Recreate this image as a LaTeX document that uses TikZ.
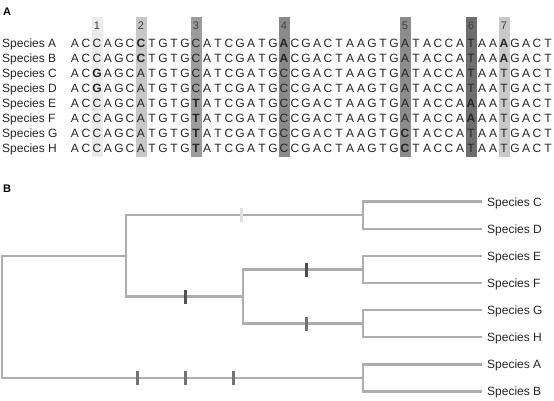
\documentclass[tikz,border=0pt]{standalone}
\usepackage{fontspec}
\setmainfont{Liberation Sans}
\usetikzlibrary{positioning}

\definecolor{siteone}{gray}{0.92}
\definecolor{sitetwo}{gray}{0.78}
\definecolor{sitethree}{gray}{0.61}
\definecolor{sitefour}{gray}{0.54}
\definecolor{sitefive}{gray}{0.55}
\definecolor{sitesix}{gray}{0.43}
\definecolor{siteseven}{gray}{0.79}
\definecolor{treegray}{gray}{0.68}

\tikzset{
  lab/.style={anchor=base west, inner sep=0pt, font=\fontsize{12}{14}\selectfont, text=black!85},
  letter/.style={anchor=base, inner sep=0pt, font=\fontsize{12}{14}\selectfont, text=black!85},
  sitenum/.style={anchor=base, inner sep=0pt, font=\fontsize{11}{13}\selectfont, text=black!75},
  panel/.style={anchor=base west, inner sep=0pt, font=\fontsize{11}{13}\selectfont\bfseries},
  leaf/.style={anchor=west, inner xsep=5pt, inner ysep=0pt, text height=8.6pt, text depth=0pt,
    font=\fontsize{12}{14}\selectfont, text=black!85},
  branch/.style={draw=treegray, line width=2.5pt, line join=miter},
  tick/.style={rectangle, inner sep=0pt, minimum width=3pt, minimum height=14pt, fill=#1},
}

% one row of the alignment: species, baseline, letters (lower case = bold)
\newcount\seqcol
\makeatletter
\newcommand\seqrow[3]{%
  \node[lab] (sp#1) at (2,#2) {Species #1};
  \seqcol=0
  \@tfor\seqch:=#3\do{%
    \advance\seqcol by 1
    \ifnum\expandafter`\seqch>90
      \node[letter] (#1\the\seqcol) at ({64+11*\the\seqcol},#2) {\bfseries\uppercase\expandafter{\seqch}};
    \else
      \node[letter] (#1\the\seqcol) at ({64+11*\the\seqcol},#2) {\seqch};
    \fi}}
\makeatother

\begin{document}
\begin{tikzpicture}[x=1pt, y=-1pt]
%   \draw[help lines] (0,0) grid[step=50] (554,401);
    \path[fill=white, use as bounding box] (0,0) rectangle (554,401);

    % panel A: alignment
    \node[panel] (panelA) at (3,16) {A};
    \foreach \col/\num/\shade in {3/1/siteone, 7/2/sitetwo, 12/3/sitethree, 20/4/sitefour,
                                  31/5/sitefive, 37/6/sitesix, 40/7/siteseven} {
      \fill[\shade] ({58.5+11*\col},17) rectangle +(11,140);
      \node[sitenum] (num\num) at ({64+11*\col},29.5) {\num};
    }
    \seqrow{A}{47.5}{ACCAGCcTGTGCATCGATGaCGACTAAGTGATACCATAAaGACT}
    \seqrow{B}{62.5}{ACCAGCcTGTGCATCGATGaCGACTAAGTGATACCATAAaGACT}
    \seqrow{C}{77.5}{ACgAGCATGTGCATCGATGCCGACTAAGTGATACCATAATGACT}
    \seqrow{D}{92.5}{ACgAGCATGTGCATCGATGCCGACTAAGTGATACCATAATGACT}
    \seqrow{E}{107.5}{ACCAGCATGTGtATCGATGCCGACTAAGTGATACCAaAATGACT}
    \seqrow{F}{122.5}{ACCAGCATGTGtATCGATGCCGACTAAGTGATACCAaAATGACT}
    \seqrow{G}{137.5}{ACCAGCATGTGtATCGATGCCGACTAAGTGcTACCATAATGACT}
    \seqrow{H}{152.5}{ACCAGCATGTGtATCGATGCCGACTAAGTGcTACCATAATGACT}

    % panel B: tree
    \node[panel] (panelB) at (3,192) {B};
    \node[leaf] (leafC) at (482,201.7) {Species C};
    \node[leaf] (leafD) at (482,228.8) {Species D};
    \node[leaf] (leafE) at (482,255.9) {Species E};
    \node[leaf] (leafF) at (482,283.0) {Species F};
    \node[leaf] (leafG) at (482,310.1) {Species G};
    \node[leaf] (leafH) at (482,337.2) {Species H};
    \node[leaf] (leafA) at (482,364.3) {Species A};
    \node[leaf] (leafB) at (482,391.4) {Species B};
    \coordinate (nCD) at (363,215.2);
    \coordinate (nEF) at (363,269.5);
    \coordinate (nGH) at (363,323.6);
    \coordinate (nAB) at (363,377.9);
    \coordinate (nEFGH) at (243,296.5);
    \coordinate (nCH) at (126,255.9);
    \coordinate (root) at (2,316.9);
    \draw[branch] (root) |- (nCH);
    \draw[branch] (root) |- (nAB);
    \draw[branch] (nCH) |- (nCD);
    \draw[branch] (nCH) |- (nEFGH);
    \draw[branch] (nEFGH) |- (nEF);
    \draw[branch] (nEFGH) |- (nGH);
    \foreach \p/\a/\b in {nCD/C/D, nEF/E/F, nGH/G/H, nAB/A/B} {
      \draw[branch] (\p) |- (leaf\a.west);
      \draw[branch] (\p) |- (leaf\b.west);
    }

    % changes on the branches
    \node[tick=black!12] (mkone) at (241,215.2) {};
    \node[tick=black!68] (mkthree) at (185,296.5) {};
    \node[tick=black!70] (mksix) at (306,269.5) {};
    \node[tick=black!55] (mkfive) at (306,323.6) {};
    \node[tick=black!55] (mktwo) at (137,377.9) {};
    \node[tick=black!55] (mkfour) at (185,377.9) {};
    \node[tick=black!55] (mkseven) at (233,377.9) {};
\end{tikzpicture}
\end{document}
